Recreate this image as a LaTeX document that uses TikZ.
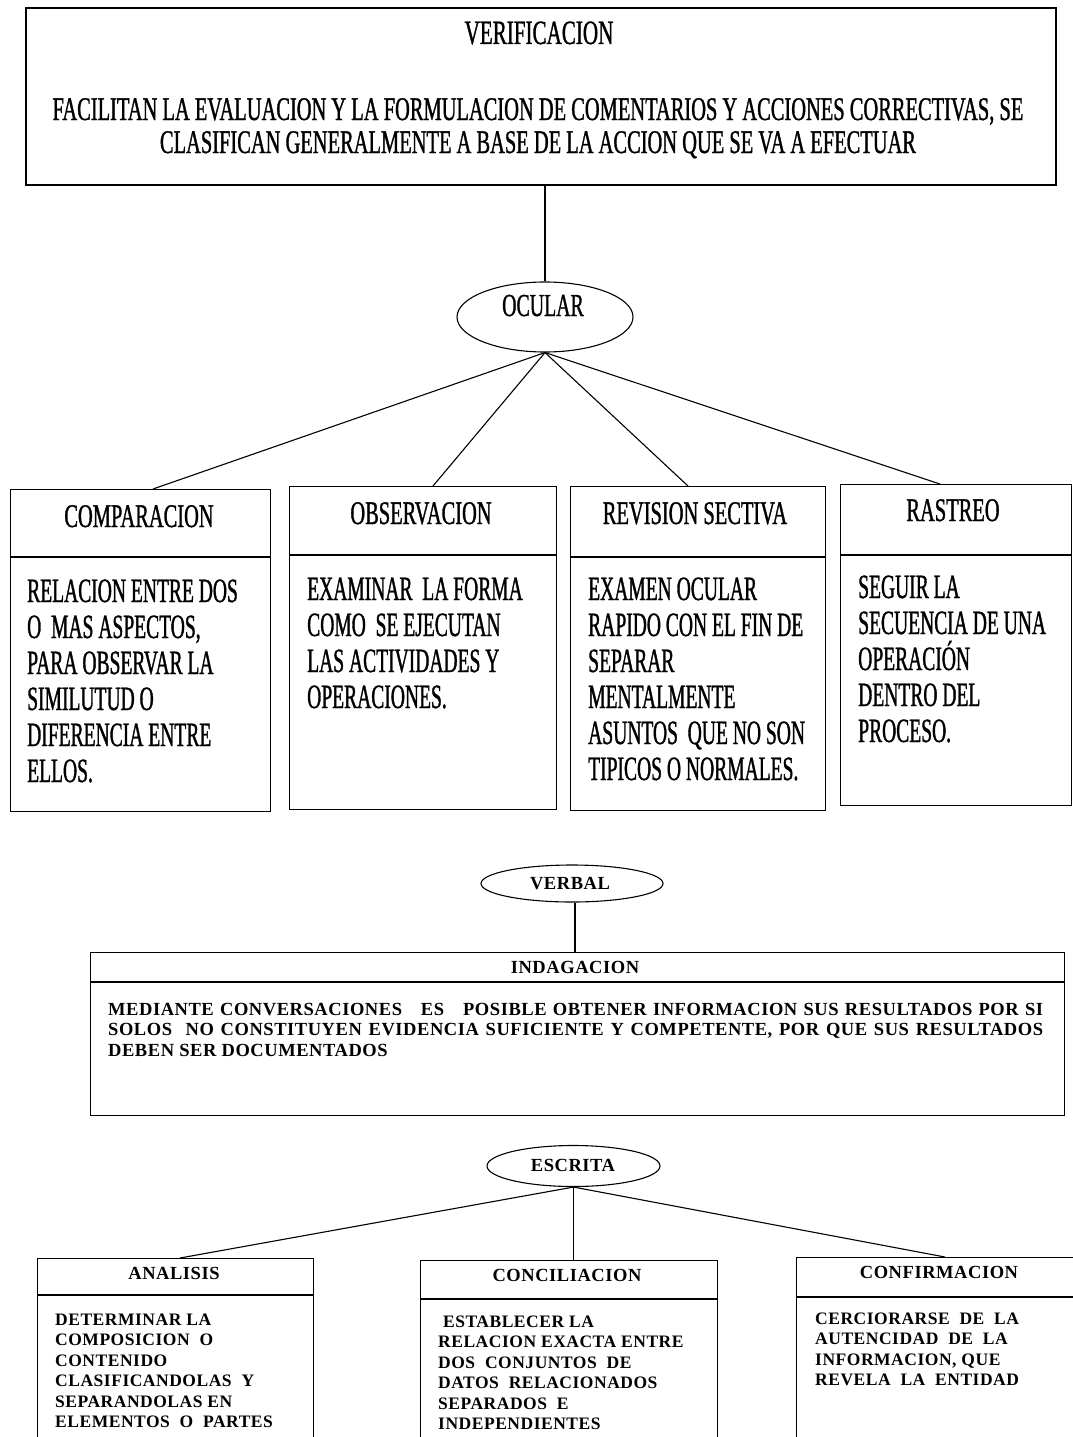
\documentclass[tikz,border=0pt]{standalone}
\usepackage{fontspec}
\usetikzlibrary{shapes.geometric,calc}
\setmainfont{Liberation Serif}
% narrow serif faces for the upper chart, letter-spaced bold for the lower one
\newfontfamily\narrowserif[FakeStretch=0.62,FakeBold=1]{Liberation Serif}
\newfontfamily\narrowbody[FakeStretch=0.575,FakeBold=1]{Liberation Serif}
\newfontfamily\spacedserif[LetterSpace=3]{Liberation Serif}

\tikzset{
  frame/.style={draw, line width=1.3pt, inner sep=0pt, anchor=north west},
  link/.style={line width=1.1pt},
  oval/.style={draw, ellipse, line width=1.1pt, inner sep=0pt},
  upper/.style={inner sep=0pt, font=\narrowserif\fontsize{33}{33}\selectfont},
  uppertitle/.style={inner sep=0pt, anchor=base, font=\narrowserif\fontsize{33}{33}\selectfont},
  upperbody/.style={inner sep=0pt, anchor=base west, font=\narrowbody\fontsize{34}{36}\selectfont},
  lowertitle/.style={inner sep=0pt, anchor=base, font=\spacedserif\bfseries\fontsize{18.5}{20}\selectfont},
  lowerbody/.style={inner sep=0pt, anchor=base west, font=\spacedserif\bfseries\fontsize{17.5}{20.5}\selectfont},
}

\begin{document}
\begin{tikzpicture}[x=1pt, y=-1pt]
\clip (0,0) rectangle (1073,1437);
\fill[white] (0,0) rectangle (1073,1437);

% ---------- headline box ----------
\node[frame, line width=1.6pt, minimum width=1030pt, minimum height=177pt] (verif) at (25,7) {};
\node[uppertitle, font=\narrowserif\fontsize{34}{34}\selectfont] (verift) at (539,44) {VERIFICACION};
\node[upper, anchor=base] (verifb) at (538,120)
  {\parbox[t]{1020pt}{\centering FACILITAN LA EVALUACION Y LA FORMULACION DE COMENTARIOS Y ACCIONES CORRECTIVAS, SE\\
   CLASIFICAN GENERALMENTE A BASE DE LA ACCION QUE SE VA A EFECTUAR}};

% ---------- ocular ----------
\node[oval, minimum width=176pt, minimum height=70pt] (ocular) at (545,317) {};
\node[uppertitle, font=\narrowserif\fontsize{32}{32}\selectfont] (ocult) at (543,316) {OCULAR};
\draw[link] (verif.south -| ocular.north) -- (ocular.north);

% four boxes
\node[frame, minimum width=260pt, minimum height=322pt] (comp) at (10,489) {};
\node[frame, minimum width=267pt, minimum height=323pt] (obs) at (289,486) {};
\node[frame, minimum width=255pt, minimum height=324pt] (rev) at (570,486) {};
\node[frame, minimum width=231pt, minimum height=321pt] (ras) at (840,484) {};
\draw[link] (10,557) -- (270,557);
\draw[link] (289,555) -- (556,555);
\draw[link] (570,557) -- (825,557);
\draw[link] (840,555) -- (1071,555);

\coordinate (compin) at (153,489);
\coordinate (obsin) at (433,486);
\coordinate (revin) at (688,486);
\coordinate (rasin) at (940,484);
\draw[link] (ocular.south) -- (compin);
\draw[link] (ocular.south) -- (obsin);
\draw[link] (ocular.south) -- (revin);
\draw[link] (ocular.south) -- (rasin);

\node[uppertitle] (compt) at (139,527) {COMPARACION};
\node[uppertitle] (obst) at (421,524) {OBSERVACION};
\node[uppertitle] (revt) at (695,524) {REVISION SECTIVA};
\node[uppertitle] (rast) at (953,521) {RASTREO};

\node[upperbody] (compb) at (27,602) {\parbox[t]{240pt}{RELACION ENTRE DOS\\O\ \ MAS ASPECTOS,\\PARA OBSERVAR LA\\SIMILUTUD O\\DIFERENCIA ENTRE\\ELLOS.}};
\node[upperbody] (obsb) at (307,600) {\parbox[t]{240pt}{EXAMINAR\ \ LA FORMA\\COMO\ \ SE EJECUTAN\\LAS ACTIVIDADES Y\\OPERACIONES.}};
\node[upperbody] (revb) at (588,600) {\parbox[t]{230pt}{EXAMEN OCULAR\\RAPIDO CON EL FIN DE\\SEPARAR\\MENTALMENTE\\ASUNTOS\ \ QUE NO SON\\TIPICOS O NORMALES.}};
\node[upperbody] (rasb) at (858,598) {\parbox[t]{210pt}{SEGUIR LA\\SECUENCIA DE UNA\\OPERACIÓN\\DENTRO DEL\\PROCESO.}};

% ---------- verbal ----------
\node[oval, minimum width=182pt, minimum height=37pt] (verbal) at (572,883.5) {};
\node[lowertitle] (verbalt) at (570,889) {VERBAL};
\node[frame, minimum width=974pt, minimum height=163pt] (indag) at (90,952) {};
\draw[link] (90,982) -- (1064,982);
\draw[link] (verbal.south -| 575,0) -- (indag.north -| 575,0);
\node[lowertitle] (indagt) at (575,973) {INDAGACION};
\node[lowerbody, font=\spacedserif\bfseries\fontsize{18.5}{20.5}\selectfont] (indagb) at (108,1015) {\parbox[t]{940pt}{%
  \makebox[935pt][s]{MEDIANTE CONVERSACIONES \ \ ES \ \ POSIBLE OBTENER INFORMACION SUS RESULTADOS POR SI}\\
  \makebox[935pt][s]{SOLOS \ NO CONSTITUYEN EVIDENCIA SUFICIENTE Y COMPETENTE, POR QUE SUS RESULTADOS}\\
  DEBEN SER DOCUMENTADOS}};

% ---------- escrita ----------
\node[oval, minimum width=173pt, minimum height=41pt] (escrita) at (573.5,1166) {};
\node[lowertitle] (escritat) at (573,1171) {ESCRITA};

\node[frame, minimum width=276pt, minimum height=240pt] (anal) at (37,1258) {};
\node[frame, minimum width=297pt, minimum height=240pt] (conc) at (420,1260) {};
\node[frame, minimum width=300pt, minimum height=240pt] (conf) at (796,1257) {};
\draw[link] (37,1295) -- (313,1295);
\draw[link] (420,1299) -- (717,1299);
\draw[link] (796,1297) -- (1096,1297);

\coordinate (analin) at (180,1258);
\coordinate (confin) at (945,1257);
\draw[link] (escrita.south) -- (analin);
\draw[link] (escrita.south) -- (conc.north -| escrita.south);
\draw[link] (escrita.south) -- (confin);

\node[lowertitle] (analt) at (174,1279) {ANALISIS};
\node[lowertitle] (conct) at (567,1281) {CONCILIACION};
\node[lowertitle] (conft) at (939,1278) {CONFIRMACION};

\node[lowerbody] (analb) at (55,1325) {\parbox[t]{260pt}{DETERMINAR LA\\COMPOSICION\ \ O\\CONTENIDO\\CLASIFICANDOLAS\ \ Y\\SEPARANDOLAS EN\\ELEMENTOS\ \ O\ \ PARTES}};
\node[lowerbody] (concb) at (438,1327) {\parbox[t]{275pt}{\ ESTABLECER LA\\RELACION EXACTA ENTRE\\DOS\ \ CONJUNTOS\ \ DE\\DATOS\ \ RELACIONADOS\\SEPARADOS\ \ E\\INDEPENDIENTES}};
\node[lowerbody] (confb) at (815,1324) {\parbox[t]{255pt}{CERCIORARSE\ \ DE\ \ LA\\AUTENCIDAD\ \ DE\ \ LA\\INFORMACION, QUE\\REVELA\ \ LA\ \ ENTIDAD}};
\end{tikzpicture}
\end{document}
